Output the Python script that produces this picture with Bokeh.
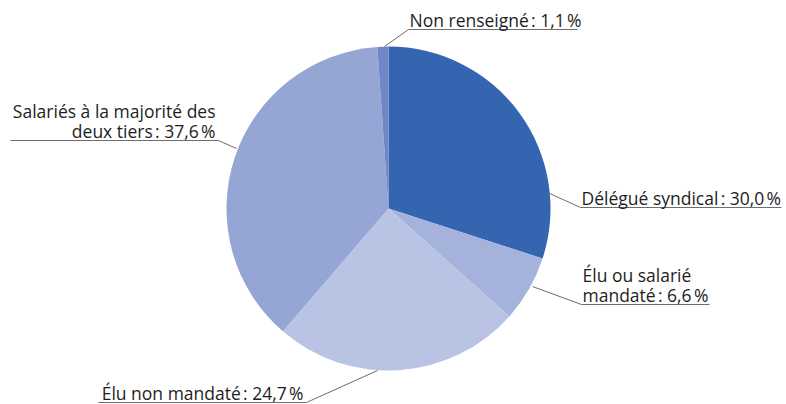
import numpy as np
from bokeh.plotting import figure
from bokeh.models import Range1d, ColumnDataSource
from bokeh.core.properties import value
from bokeh.embed import file_html
from bokeh.resources import INLINE

categories = ["Délégué syndical", "Élu ou salarié mandaté", "Élu non mandaté",
              "Salariés à la majorité des deux tiers", "Non renseigné"]
values = [30.0, 6.6, 24.7, 37.6, 1.1]
colors = ["#3564b1", "#a5b3dc", "#b9c3e3", "#95a5d4", "#6f87c6"]

NB = "\u202f"
def pct(v):
    return f"{v:.1f}".replace(".", ",") + NB + "%"

label_lines = [
    ["Délégué syndical" + NB + ": " + pct(values[0])],
    ["Élu ou salarié", "mandaté" + NB + ": " + pct(values[1])],
    ["Élu non mandaté" + NB + ": " + pct(values[2])],
    ["Salariés à la majorité des", "deux tiers" + NB + ": " + pct(values[3])],
    ["Non renseigné" + NB + ": " + pct(values[4])],
]

# layout (picture pixel coordinates, y downward)
CX, CY, R = 388, 208, 162
leaders = [
    ((547, 192), (580, 207), 781, "left"),
    ((532, 286), (581, 304), 709, "left"),
    ((377, 370), (306, 402), 98, "right"),
    ((236, 148), (218, 140), 10, "right"),
    ((384, 46), (408, 29), 577, "left"),
]
LINE_H = 20
GAP = 10

p = figure(width=786, height=404, output_backend="svg", toolbar_location=None,
           x_range=Range1d(0, 786), y_range=Range1d(-404, 0),
           min_border=0, outline_line_color=None)
p.axis.visible = False
p.grid.visible = False
p.background_fill_color = "white"
p.border_fill_color = "white"

frac = np.array(values) / sum(values)
cum = np.concatenate([[0], np.cumsum(frac)])
start = np.pi / 2 - cum[:-1] * 2 * np.pi
end = np.pi / 2 - cum[1:] * 2 * np.pi
src = ColumnDataSource(dict(start=start, end=end, color=colors, cat=categories))
p.wedge(x=CX, y=-CY, radius=R, start_angle="start", end_angle="end",
        direction="clock", fill_color="color", line_color=None, source=src)

for (s, e, far, align), lines in zip(leaders, label_lines):
    p.line([s[0], e[0], far], [-s[1], -e[1], -e[1]], line_color="#6e6e6e", line_width=1)
    tx = e[0] + 1 if align == "left" else e[0] - 3
    n = len(lines)
    for i, t in enumerate(lines):
        base = e[1] - GAP - (n - 1 - i) * LINE_H
        p.text(x=[tx], y=[-base], text=[t], text_align=align, text_baseline="alphabetic",
               text_font=value("Open Sans"), text_font_size="17.5px", text_color="#1e1e1e")

open("out.html", "w").write(file_html(p, INLINE))
